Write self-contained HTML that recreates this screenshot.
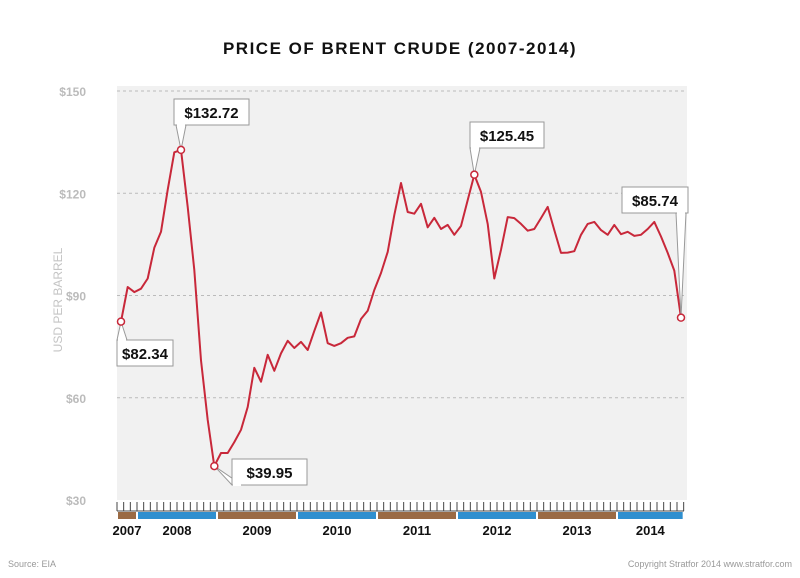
<!DOCTYPE html>
<html><head><meta charset="utf-8"><style>
body{margin:0;background:#fff;width:800px;height:578px;overflow:hidden;font-family:"Liberation Sans",sans-serif}
svg{display:block}
</style></head><body>
<svg id="chart" width="800" height="578">
<text x="400" y="54" text-anchor="middle" font-size="17" font-weight="bold" letter-spacing="1.5" fill="#111">PRICE OF BRENT CRUDE (2007-2014)</text>
<rect x="117" y="86" width="570" height="414" fill="#f1f1f1"/>
<g id="grid"></g><g id="ticks"></g><g id="bands"></g>
<path id="line" fill="none" stroke="#c8283a" stroke-width="2" stroke-linejoin="round"/>
<g id="callouts"></g>
<text transform="translate(62,300) rotate(-90)" text-anchor="middle" font-size="12" fill="#c4c4c4">USD PER BARREL</text>
<text x="8" y="567" font-size="9" fill="#999">Source: EIA</text>
<text x="792" y="567" text-anchor="end" font-size="9" fill="#999">Copyright Stratfor 2014 www.stratfor.com</text>
</svg>
<script>
const prices=[82.34,92.5,91,92,95,104,108.7,121,132,132.72,116,97.5,71,53.5,39.95,43.8,43.8,47,50.6,57.3,68.8,64.7,72.6,67.9,73,76.7,74.6,76.4,74,79.6,85,76,75.2,76,77.6,78,83.1,85.5,91.6,96.6,102.8,113.6,123,114.5,114,116.9,110,112.8,109.5,110.7,107.8,110.4,118,125.45,120.4,111,95,103.4,113,112.7,111,109,109.5,112.7,116,109.2,102.5,102.6,103,107.8,111,111.6,109.2,107.8,110.7,108,108.7,107.5,107.8,109.5,111.6,107.3,102.5,97.3,83.5];
const yTicks=[30,60,90,120,150];
const years=["2007","2008","2009","2010","2011","2012","2013","2014"];
const yearMonths=[3,12,12,12,12,12,12,10];
const callouts=[{i:0,label:"$82.34"},{i:9,label:"$132.72"},{i:14,label:"$39.95"},{i:53,label:"$125.45"},{i:84,label:"$85.74"}];
const boxes=[[117,340,56],[174,99,75],[232,459,75],[470,122,74],[622,187,66]];
const NS="http://www.w3.org/2000/svg";
const X0=121,DX=560/84;
const x=i=>X0+i*DX;
const y=v=>91+(150-v)*409/120;
function mk(t,a,p){const e=document.createElementNS(NS,t);for(const k in a)e.setAttribute(k,a[k]);p.appendChild(e);return e;}
const grid=document.getElementById('grid');
yTicks.forEach(v=>{
  if(v>30){const l=mk('line',{x1:117,x2:687,y1:y(v),y2:y(v),stroke:'#bbb','stroke-dasharray':'3,3'},grid);
  
  }
  const t=mk('text',{x:86,y:y(v)+5,'text-anchor':'end','font-size':12,fill:'#bbb','font-weight':'bold'},grid);t.textContent='$'+v;
  
  
});
const ticks=document.getElementById('ticks');
for(let m=0;m<=85;m++){const xx=117+m*DX;const l=mk('line',{x1:xx,x2:xx,y1:502,y2:511,stroke:'#444','stroke-width':1},ticks);

}
mk('line',{x1:117,x2:684,y1:511,y2:511,stroke:'#444'},ticks);
const bands=document.getElementById('bands');let m0=0;
years.forEach((yr,k)=>{const xa=117+m0*DX,xb=117+(m0+yearMonths[k])*DX;
  const r=mk('rect',{x:xa+1,y:512,width:xb-xa-2,height:7,fill:k%2?'#2f8fcf':'#9a6a44'},bands);
  
  
  const t=mk('text',{x:(xa+xb)/2,y:535,'text-anchor':'middle','font-size':13,'font-weight':'bold',fill:'#111'},bands);t.textContent=yr;
  
  
  m0+=yearMonths[k];});
document.getElementById('line').setAttribute('d',prices.map((v,i)=>(i?'L':'M')+x(i).toFixed(1)+','+y(v).toFixed(1)).join(''));
const cg=document.getElementById('callouts');
callouts.forEach((c,k)=>{const [bx,by,bw]=boxes[k];const px=x(c.i),py=y(prices[c.i]);
  const cx=Math.max(bx+5,Math.min(bx+bw-5,px));const ey=py<by?by:by+26;
  mk('polygon',{points:`${px},${py} ${cx-5},${ey} ${cx+5},${ey}`,fill:'#fff',stroke:'#999'},cg);
  const r=mk('rect',{x:bx,y:by,width:bw,height:26,fill:'#fff',stroke:'#999'},cg);
  
  
  mk('line',{x1:cx-4,x2:cx+4,y1:ey,y2:ey,stroke:'#fff','stroke-width':2},cg);
  const t=mk('text',{x:bx+bw/2,y:by+19,'text-anchor':'middle','font-size':15,'font-weight':'bold',fill:'#111'},cg);t.textContent=c.label;
  
  
  const ci=mk('circle',{cx:px,cy:py,r:3.5,fill:'#fff',stroke:'#c8283a','stroke-width':1.5},cg);
  
  
});
</script>
</body></html>
